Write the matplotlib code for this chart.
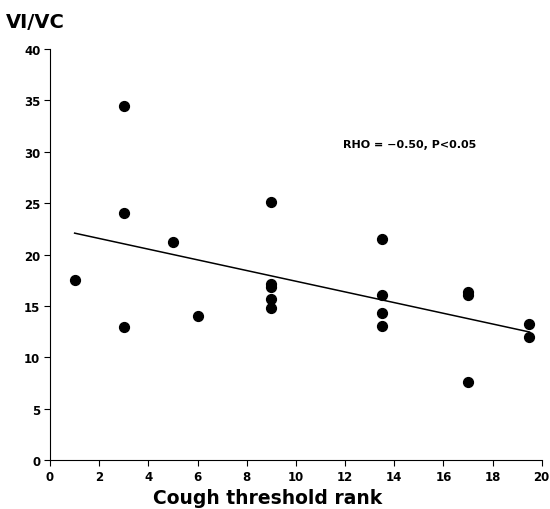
import matplotlib.pyplot as plt
import numpy as np

plt.rcParams['font.family'] = ['DejaVu Sans']
plt.rcParams['font.weight'] = 'bold'

# data
rank = [1, 3, 3, 3, 5, 6, 9, 9, 9, 9, 9, 13.5, 13.5, 13.5, 13.5, 17, 17, 17, 19.5, 19.5]
vi_vc = [17.5, 34.5, 24.0, 12.9, 21.2, 14.0, 25.1, 17.1, 16.8, 15.7, 14.8,
         21.5, 16.1, 14.3, 13.0, 16.4, 16.1, 7.6, 13.2, 12.0]
line_x = [1, 19.5]
slope, intercept = -0.52, 22.6
xticks = np.arange(0, 21, 2)
yticks = np.arange(0, 41, 5)

fig = plt.figure(figsize=(5.5, 5.1), dpi=100)
ax = fig.add_axes([0.091, 0.096, 0.894, 0.806])

ax.scatter(rank, vi_vc, s=50, color='black', zorder=3, clip_on=False)
lx = np.array(line_x)
ax.plot(lx, intercept + slope * lx, color='black', lw=1.1)

ax.set_xlim(0, 20)
ax.set_ylim(0, 40)
ax.set_xticks(xticks)
ax.set_yticks(yticks)
ax.tick_params(labelsize=8.5, length=4, width=0.8, colors='black', pad=3)
for lab in ax.get_xticklabels() + ax.get_yticklabels():
    lab.set_fontweight('bold')

ax.spines['top'].set_visible(False)
ax.spines['right'].set_visible(False)
ax.spines['left'].set_linestyle((0, (6, 1)))
ax.spines['left'].set_linewidth(0.8)
ax.spines['bottom'].set_linewidth(0.8)

ax.text(11.9, 30.8, 'RHO = \u22120.50, P<0.05', fontsize=8, fontweight='bold', va='center')
fig.text(0.487, 0.022, 'Cough threshold rank', fontsize=13.5, fontweight='bold', ha='center', va='center')
fig.text(0.01, 0.955, 'VI/VC', fontsize=14, fontweight='bold', va='center')

fig.savefig('out.png', dpi=100)
